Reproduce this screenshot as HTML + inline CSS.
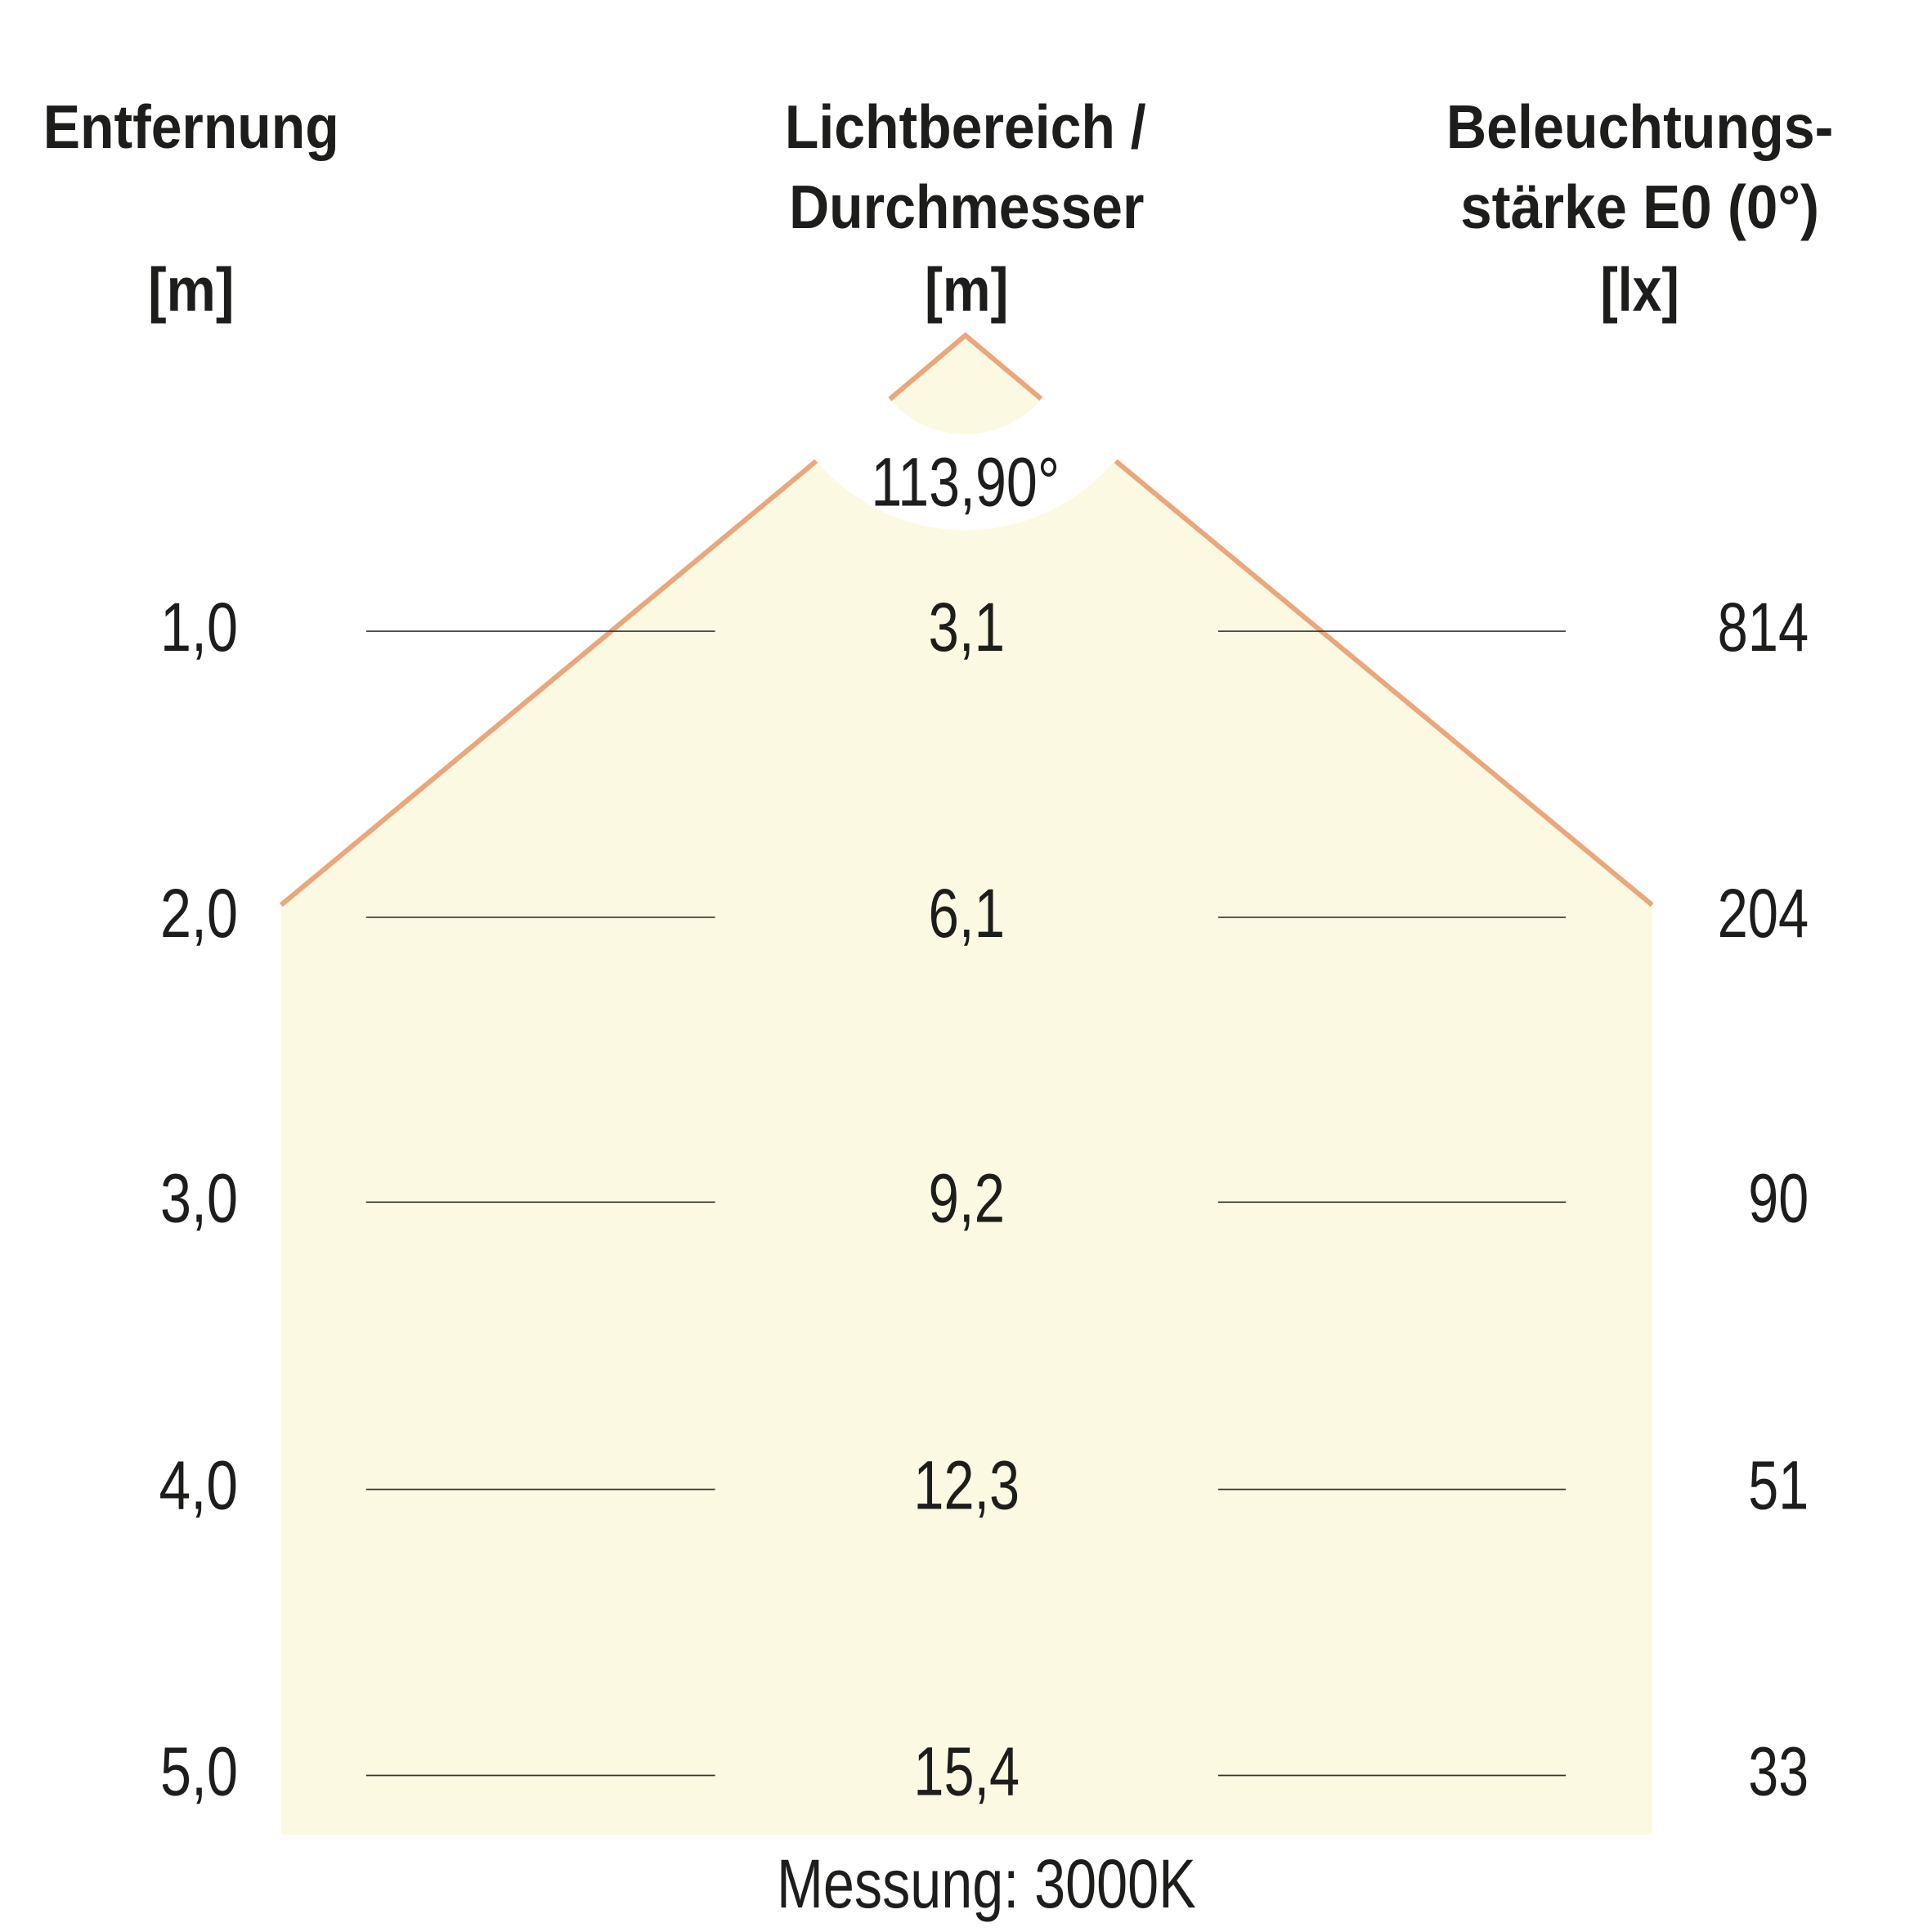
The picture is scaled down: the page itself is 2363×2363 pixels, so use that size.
<!DOCTYPE html>
<html><head><meta charset="utf-8"><style>html,body{margin:0;padding:0;background:#fff}svg{display:block}</style></head>
<body>
<svg xmlns="http://www.w3.org/2000/svg" width="2363" height="2363" viewBox="0 0 1567 1567">
<polygon points="783,272 228,734 228,1488 1340,1488 1340,734" fill="#fcf9e2"/>
<circle cx="783" cy="272" r="158" fill="#fff"/>
<path d="M783,272 L721.7,323.7 A80 80 0 0 0 844.4,323.5 Z" fill="#fcf9e2"/>
<polyline points="721.7,323.7 783,272 844.4,323.5" fill="none" stroke="#eba67c" stroke-width="4"/>
<line x1="228" y1="734" x2="662" y2="374" stroke="#eba67c" stroke-width="4"/>
<line x1="905" y1="374" x2="1340" y2="734" stroke="#eba67c" stroke-width="4"/>
<g stroke="#333" stroke-width="1.1">
<line x1="297" y1="512" x2="580" y2="512"/><line x1="988" y1="512" x2="1270" y2="512"/>
<line x1="297" y1="744" x2="580" y2="744"/><line x1="988" y1="744" x2="1270" y2="744"/>
<line x1="297" y1="975" x2="580" y2="975"/><line x1="988" y1="975" x2="1270" y2="975"/>
<line x1="297" y1="1208" x2="580" y2="1208"/><line x1="988" y1="1208" x2="1270" y2="1208"/>
<line x1="297" y1="1440" x2="580" y2="1440"/><line x1="988" y1="1440" x2="1270" y2="1440"/>
</g>
<g font-family="Liberation Sans, sans-serif" font-weight="bold" font-size="50" fill="#1d1d1b" text-anchor="middle">
<text x="155" y="120" textLength="240" lengthAdjust="spacingAndGlyphs">Entfernung</text>
<text x="155" y="252" textLength="70" lengthAdjust="spacingAndGlyphs">[m]</text>
<text x="783" y="120" textLength="293" lengthAdjust="spacingAndGlyphs">Lichtbereich /</text>
<text x="784" y="185" textLength="288" lengthAdjust="spacingAndGlyphs">Durchmesser</text>
<text x="784" y="252" textLength="68" lengthAdjust="spacingAndGlyphs">[m]</text>
<text x="1330" y="120" textLength="314" lengthAdjust="spacingAndGlyphs">Beleuchtungs-</text>
<text x="1330" y="185" textLength="291" lengthAdjust="spacingAndGlyphs">stärke E0 (0°)</text>
<text x="1330" y="252" textLength="64" lengthAdjust="spacingAndGlyphs">[lx]</text>
</g>
<g font-family="Liberation Sans, sans-serif" font-size="56" fill="#1d1d1b">
<text x="783" y="410" text-anchor="middle" textLength="153" lengthAdjust="spacingAndGlyphs">113,90°</text>
<g text-anchor="end">
<text x="193" y="528" textLength="63" lengthAdjust="spacingAndGlyphs">1,0</text>
<text x="193" y="760" textLength="63" lengthAdjust="spacingAndGlyphs">2,0</text>
<text x="193" y="991" textLength="63" lengthAdjust="spacingAndGlyphs">3,0</text>
<text x="193" y="1224" textLength="64" lengthAdjust="spacingAndGlyphs">4,0</text>
<text x="193" y="1456" textLength="63" lengthAdjust="spacingAndGlyphs">5,0</text>
<text x="1467" y="528" textLength="74" lengthAdjust="spacingAndGlyphs">814</text>
<text x="1467" y="760" textLength="74" lengthAdjust="spacingAndGlyphs">204</text>
<text x="1467" y="991" textLength="49" lengthAdjust="spacingAndGlyphs">90</text>
<text x="1467" y="1224" textLength="49" lengthAdjust="spacingAndGlyphs">51</text>
<text x="1467" y="1456" textLength="49" lengthAdjust="spacingAndGlyphs">33</text>
</g>
<g text-anchor="middle">
<text x="784" y="528" textLength="62" lengthAdjust="spacingAndGlyphs">3,1</text>
<text x="784" y="760" textLength="62" lengthAdjust="spacingAndGlyphs">6,1</text>
<text x="784" y="991" textLength="62" lengthAdjust="spacingAndGlyphs">9,2</text>
<text x="784" y="1224" textLength="86" lengthAdjust="spacingAndGlyphs">12,3</text>
<text x="784" y="1456" textLength="86" lengthAdjust="spacingAndGlyphs">15,4</text>
<text x="800" y="1547" textLength="340" lengthAdjust="spacingAndGlyphs">Messung: 3000K</text>
</g>
</g>
</svg>
</body></html>
